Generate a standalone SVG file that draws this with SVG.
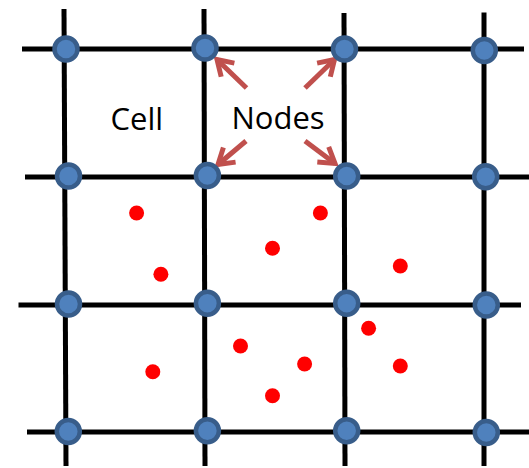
<svg xmlns="http://www.w3.org/2000/svg" width="529" height="468" viewBox="0 0 529 468">
  <style>
    .grid line { stroke: #000; stroke-width: 5; stroke-linecap: butt; }
    .node { fill: #4f81bd; stroke: #385d8a; stroke-width: 4.5; }
    .pt { fill: #ff0000; }
    .arrow { stroke: #c0504d; stroke-width: 5; fill: none; marker-end: url(#head); }
    .lbl { font-family: "Open Sans", "Noto Sans", sans-serif; font-size: 31px; fill: #000; }
  </style>
  <defs>
    <marker id="head" markerUnits="userSpaceOnUse" markerWidth="30" markerHeight="30" viewBox="-20 -15 30 30" refX="0" refY="0" orient="auto">
      <path d="M-15,-9.5 L0,0 L-15,9.5" fill="none" stroke="#c0504d" stroke-width="5" stroke-linejoin="miter"/>
    </marker>
  </defs>
  <rect width="529" height="468" fill="#fff"/>
  <g id="grid" class="grid">
    <line x1="64" y1="9" x2="66" y2="466"/>
    <line x1="204" y1="9" x2="205" y2="466"/>
    <line x1="344" y1="13" x2="345" y2="466"/>
    <line x1="484" y1="12.5" x2="484" y2="466"/>
    <line x1="22" y1="49" x2="524" y2="49"/>
    <line x1="25" y1="177" x2="529" y2="177"/>
    <line x1="18.5" y1="305" x2="521" y2="305"/>
    <line x1="27" y1="432" x2="529" y2="432"/>
  </g>
  <g id="connectors">
    <line class="arrow" x1="246.5" y1="88" x2="217" y2="59.5"/>
    <line class="arrow" x1="305" y1="88" x2="334.5" y2="59.5"/>
    <line class="arrow" x1="246" y1="141" x2="218" y2="164.5"/>
    <line class="arrow" x1="305" y1="141" x2="335" y2="163.5"/>
  </g>
  <g id="nodes">
    <g id="n11"><circle class="node" cx="66" cy="49" r="11.5"/></g>
    <g id="n12"><circle class="node" cx="205" cy="48" r="11.5"/></g>
    <g id="n13"><circle class="node" cx="344.5" cy="49" r="11.5"/></g>
    <g id="n14"><circle class="node" cx="484.3" cy="50.5" r="11.5"/></g>
    <g id="n21"><circle class="node" cx="68.5" cy="176" r="11.5"/></g>
    <g id="n22"><circle class="node" cx="207.4" cy="175.5" r="11.5"/></g>
    <g id="n23"><circle class="node" cx="346.7" cy="176" r="11.5"/></g>
    <g id="n24"><circle class="node" cx="485.7" cy="176.7" r="11.5"/></g>
    <g id="n31"><circle class="node" cx="68.5" cy="304" r="11.5"/></g>
    <g id="n32"><circle class="node" cx="207.4" cy="303.3" r="11.5"/></g>
    <g id="n33"><circle class="node" cx="346.7" cy="303.3" r="11.5"/></g>
    <g id="n34"><circle class="node" cx="486.3" cy="305" r="11.5"/></g>
    <g id="n41"><circle class="node" cx="68.3" cy="431.5" r="11.5"/></g>
    <g id="n42"><circle class="node" cx="207.4" cy="430.8" r="11.5"/></g>
    <g id="n43"><circle class="node" cx="346.7" cy="430.8" r="11.5"/></g>
    <g id="n44"><circle class="node" cx="486.3" cy="432.5" r="11.5"/></g>
  </g>
  <g id="particles">
    <circle class="pt" cx="136.6" cy="213" r="7.5"/>
    <circle class="pt" cx="320.4" cy="213" r="7.5"/>
    <circle class="pt" cx="272.5" cy="248.3" r="7.5"/>
    <circle class="pt" cx="160.9" cy="274.3" r="7.5"/>
    <circle class="pt" cx="400.3" cy="266" r="7.5"/>
    <circle class="pt" cx="368.6" cy="328.3" r="7.5"/>
    <circle class="pt" cx="240.5" cy="346" r="7.5"/>
    <circle class="pt" cx="304.6" cy="364" r="7.5"/>
    <circle class="pt" cx="400.3" cy="366" r="7.5"/>
    <circle class="pt" cx="152.8" cy="371.7" r="7.5"/>
    <circle class="pt" cx="272.5" cy="395.7" r="7.5"/>
  </g>
  <g id="labels">
    <text class="lbl" x="110.5" y="129.5">Cell</text>
    <text class="lbl" x="231.5" y="129">Nodes</text>
  </g>
</svg>
